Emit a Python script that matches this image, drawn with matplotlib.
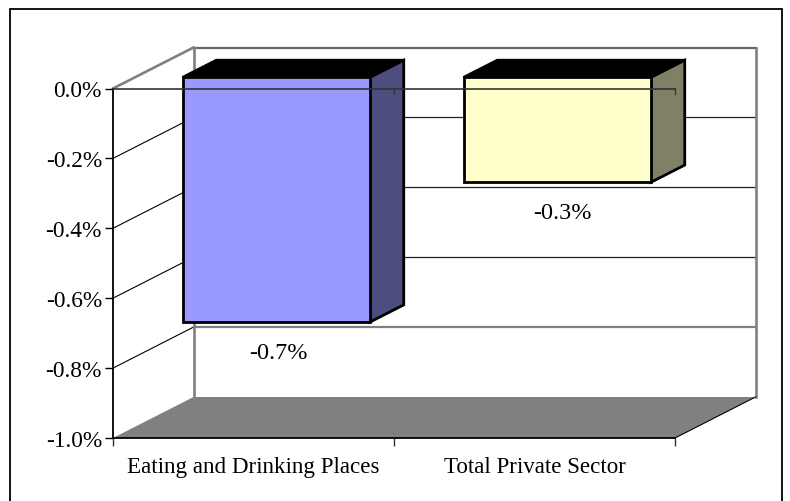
import matplotlib
matplotlib.use('Agg')
import matplotlib.pyplot as plt
from matplotlib.patches import Polygon, Rectangle
from matplotlib.ticker import FuncFormatter

categories = ['Eating and Drinking Places', 'Total Private Sector']
values = [-0.7, -0.3]
labels = ['-0.7%', '-0.3%']
yticks = [0.0, -0.2, -0.4, -0.6, -0.8, -1.0]
front_colors = ['#9999FF', '#FFFFCC']
side_colors = ['#4D4D80', '#808066']

plt.rcParams['font.family'] = ['Liberation Serif']
W, H = 790, 502
FS = 16.6
fig = plt.figure(figsize=(W / 100, H / 100), dpi=100)

# outer frame, runs off the bottom of the picture
fig.add_artist(Rectangle((10 / W, -0.02), 772 / W, 1.02 - 9.5 / H, transform=fig.transFigure,
                         fill=False, ec='black', lw=1.3))

# front plane of the 3d box in pixels
ax = fig.add_axes([113 / W, 1 - 439 / H, 562 / W, 349.5 / H])
ax.set_xlim(0, 2)
ax.set_ylim(-1, 0)
ax.patch.set_alpha(0)

# depth of the box in data units
DX = 80.5 / 281
DY = 41 / 349.5


def pt(x, y, d=0.0):
    return (x + d * DX, y + d * DY)


def poly(points, **kw):
    kw.setdefault('clip_on', False)
    p = Polygon(points, closed=True, **kw)
    ax.add_patch(p)
    return p


# floor
poly([pt(0, -1), pt(2, -1), pt(2, -1, 1), pt(0, -1, 1)], fc='#808080', ec='none', zorder=1)
ax.plot(*zip(pt(2, -1), pt(2, -1, 1)), color='black', lw=0.8, clip_on=False, zorder=1.5)

# gridlines on side wall and back wall
for v in yticks[1:-1]:
    col = '#808080' if v == -0.8 else '#222222'
    w = 1.6 if v == -0.8 else 0.9
    ax.plot(*zip(pt(0, v), pt(0, v, 1)), color='black', lw=0.8, clip_on=False, zorder=1.2)
    ax.plot(*zip(pt(0, v, 1), pt(2, v, 1)), color=col, lw=w, clip_on=False, zorder=1.2)

# wall outline
wall = '#808080'
ax.plot(*zip(pt(0, 0), pt(0, 0, 1)), color=wall, lw=1.9, clip_on=False, zorder=1.3)
ax.plot(*zip(pt(0, 0, 1), pt(2, 0, 1)), color='#666666', lw=1.6, clip_on=False, zorder=1.3)
ax.plot(*zip(pt(2, 0, 1), pt(2, -1, 1)), color=wall, lw=1.9, clip_on=False, zorder=1.3)
ax.plot(*zip(pt(0, 0, 1), pt(0, -1, 1)), color=wall, lw=1.9, clip_on=False, zorder=1.3)

# bars
d0, d1 = 0.27, 0.69
bar_w = 0.667
label_nudge = [1.5, 3.5]
for i, v in enumerate(values):
    x0 = i + 0.17
    x1 = x0 + bar_w
    edge = dict(ec='black', lw=2.0, joinstyle='miter', zorder=3)
    poly([pt(x0, 0, d0), pt(x1, 0, d0), pt(x1, 0, d1), pt(x0, 0, d1)], fc='black', **edge)
    poly([pt(x1, 0, d0), pt(x1, 0, d1), pt(x1, v, d1), pt(x1, v, d0)], fc=side_colors[i], **edge)
    poly([pt(x0, 0, d0), pt(x1, 0, d0), pt(x1, v, d0), pt(x0, v, d0)], fc=front_colors[i], **edge)
    lx, ly = pt((x0 + x1) / 2, v, d0)
    ax.annotate(labels[i], (lx, ly), xytext=(label_nudge[i], -21.8), textcoords='offset points',
                ha='center', va='center', fontsize=17.4, color='black', zorder=5)

# zero line with its small ticks, drawn over the bars
ax.axhline(0, color='#333333', lw=1.2, clip_on=False, zorder=4)
for x in [1, 2]:
    ax.plot([x, x], [0, -0.017], color='#333333', lw=0.9, clip_on=False, zorder=4)

ax.spines['top'].set_visible(False)
ax.spines['right'].set_visible(False)
ax.spines['left'].set_linewidth(1.3)
ax.spines['bottom'].set_linewidth(1.3)
ax.spines['left'].set_zorder(2)
ax.spines['bottom'].set_zorder(2)

ax.set_yticks(yticks)
ax.yaxis.set_major_formatter(FuncFormatter(lambda v, _: f'{v:.1f}%'))
ax.tick_params(axis='y', length=6, width=1.0, labelsize=16.8, pad=2)
ax.set_xticks([0, 1, 2])
ax.set_xticklabels(['', '', ''])
ax.set_xticks([0.5, 1.5], minor=True)
ax.set_xticklabels(categories, minor=True, fontsize=FS)
ax.tick_params(axis='x', which='major', length=6, width=1.0, color='#333333')
ax.tick_params(axis='x', which='minor', length=0, pad=13)

fig.savefig('out.png', dpi=100)
